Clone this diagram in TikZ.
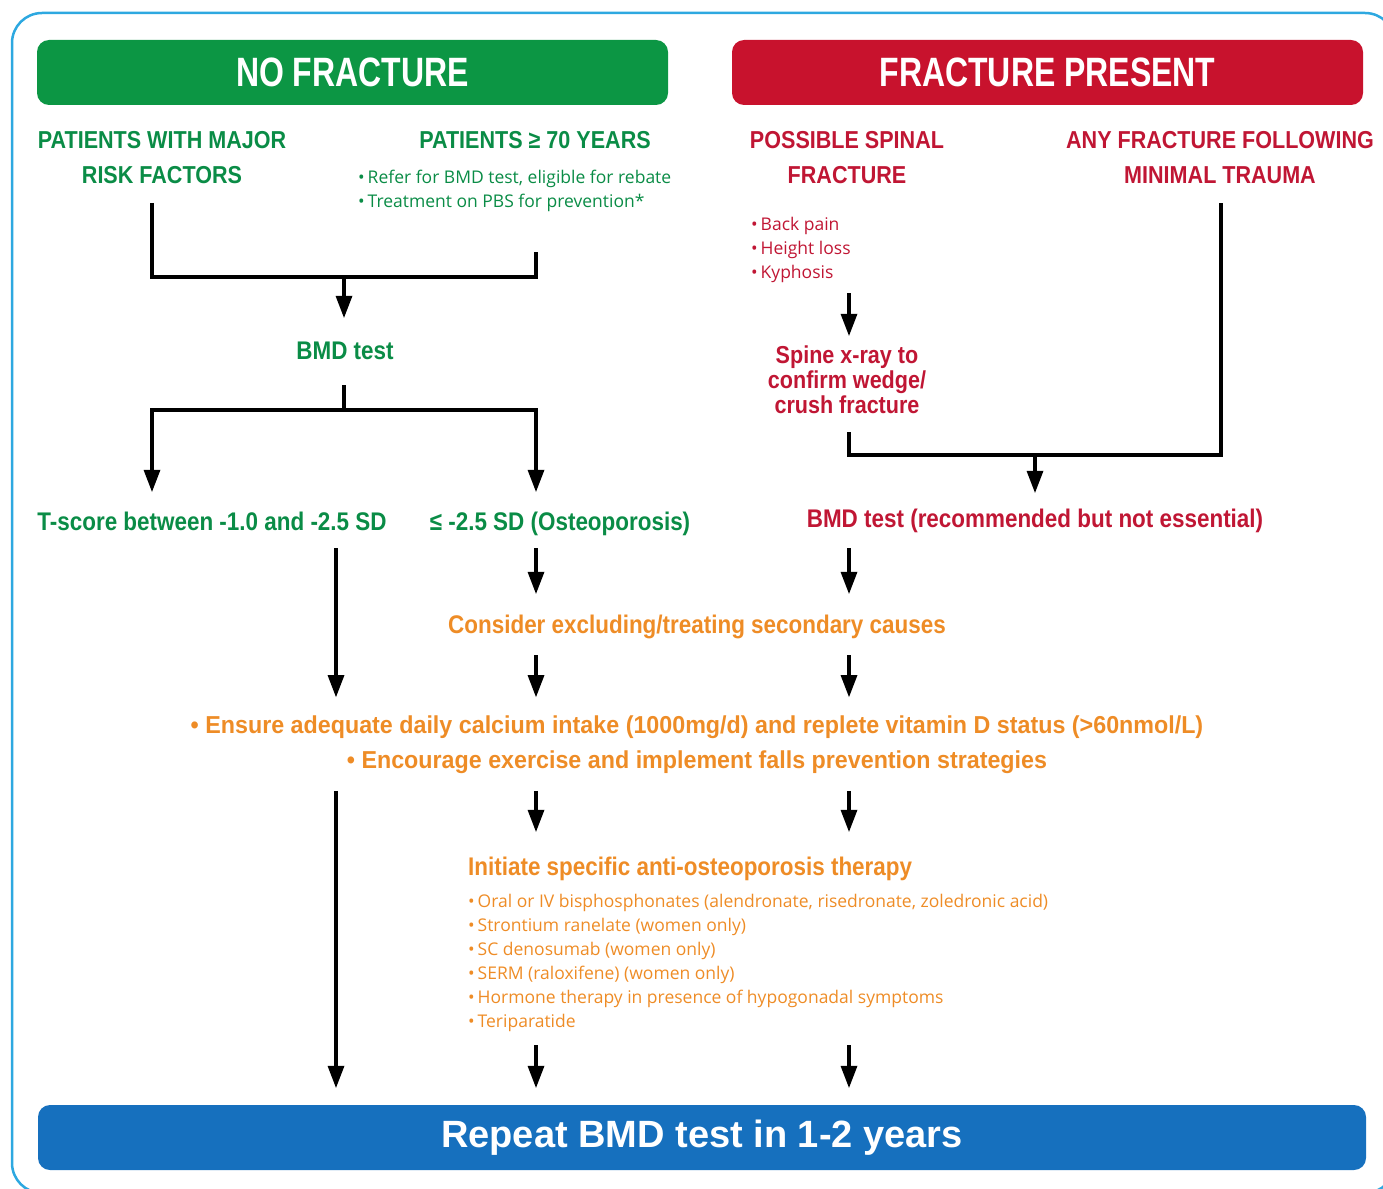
\documentclass[tikz,border=0pt]{standalone}
\usepackage{fontspec}
\setmainfont{Liberation Sans}
\newfontfamily\headfont[FakeStretch=0.78]{Liberation Sans}
\newfontfamily\labfont[FakeStretch=0.88]{Liberation Sans}
\newfontfamily\carefont[FakeStretch=0.95]{Liberation Sans}
\newfontfamily\listfont{Open Sans}
\usepackage{tikz}
\usetikzlibrary{positioning,arrows.meta}

\definecolor{nofx}{RGB}{12,150,68}
\definecolor{nofxtext}{RGB}{10,140,70}
\definecolor{fx}{RGB}{200,18,45}
\definecolor{fxtext}{RGB}{192,22,52}
\definecolor{care}{RGB}{238,140,38}
\definecolor{repeatbar}{RGB}{22,112,190}
\definecolor{frame}{RGB}{45,168,224}

\begin{document}
\begin{tikzpicture}[x=1pt,y=-1pt,
  flow/.style={line width=4pt,black},
  go/.style={flow,-{Triangle[width=17pt,length=22pt,line width=0pt]},shorten <=16pt,shorten >=18pt},
  bar/.style={rounded corners=12pt,inner sep=0pt,minimum height=65pt,text=white},
  head/.style={bar,font=\headfont\bfseries\fontsize{41}{41}\selectfont},
  sub/.style={inner sep=0pt,align=center,font=\labfont\bfseries\fontsize{24.5}{35}\selectfont},
  lbl/.style={inner sep=0pt,text height=18pt,text depth=0pt,font=\labfont\bfseries\fontsize{25.5}{25}\selectfont},
  carelbl/.style={lbl,text=care,text height=17.5pt,font=\carefont\bfseries\fontsize{24.5}{24}\selectfont},
  list/.style={inner sep=0pt,anchor=base west,text height=13pt,text depth=4pt,font=\listfont\fontsize{17.5}{24}\selectfont}]
\useasboundingbox (0,0) rectangle (1383,1188);
\draw[frame,line width=2.5pt,rounded corners=30pt] (12,13) rectangle (1395,1193);

% headers
\node[head,fill=nofx,minimum width=631pt] (nofx) at (352.5,72.5) {NO FRACTURE};
\node[head,fill=fx,minimum width=631pt] (fx) at (1047.5,72.5) {FRACTURE PRESENT};
\node[bar,fill=repeatbar,minimum width=1328pt,font=\bfseries\fontsize{38}{38}\selectfont] (repeat) at (702,1137.5) {Repeat BMD test in 1-2 years};

\node[sub,text=nofxtext] (major) at (162,157.5) {PATIENTS WITH MAJOR\\RISK FACTORS};
\node[sub,text=nofxtext,text height=18pt,text depth=0pt] (old) at (535,140) {PATIENTS ≥ 70 YEARS};
\node[sub,text=fxtext] (spinal) at (847,157.5) {POSSIBLE SPINAL\\FRACTURE};
\node[sub,text=fxtext] (trauma) at (1220,157.5) {ANY FRACTURE FOLLOWING\\MINIMAL TRAUMA};

\foreach \txt [count=\i] in {{Refer for BMD test, eligible for rebate},{Treatment on PBS for prevention*}}
  \node[list,text=nofxtext] (old\i) at (358,{159+24*\i}) {\textbullet\,\txt};
\foreach \txt [count=\i] in {Back pain,Height loss,Kyphosis}
  \node[list,text=fxtext] (sym\i) at (751,{206+24*\i}) {\textbullet\,\txt};

\node[lbl,text=nofxtext] (bmd1) at (345,350) {BMD test};
\node[lbl,text=nofxtext] (tscore) at (212,521) {T-score between -1.0 and -2.5 SD};
\node[lbl,text=nofxtext] (osteo) at (560,521) {≤ -2.5 SD (Osteoporosis)};
\node[sub,text=fxtext,font=\labfont\bfseries\fontsize{24.5}{25}\selectfont] (spine) at (847,380) {Spine x-ray to\\confirm wedge/\\crush fracture};
\node[lbl,text=fxtext] (bmd2) at (1035,518) {BMD test (recommended but not essential)};
\node[lbl,text=care] (cons) at (697,624) {Consider excluding/treating secondary causes};
\node[carelbl] (ensure) at (697,725) {\textbullet\ Ensure adequate daily calcium intake (1000mg/d) and replete vitamin D status (>60nmol/L)};
\node[carelbl] (encourage) at (697,760) {\textbullet\ Encourage exercise and implement falls prevention strategies};
\node[lbl,text=care,anchor=west] (init) at (468,866) {Initiate specific anti-osteoporosis therapy};
\foreach \txt [count=\i] in {{Oral or IV bisphosphonates (alendronate, risedronate, zoledronic acid)},{Strontium ranelate (women only)},{SC denosumab (women only)},{SERM (raloxifene) (women only)},{Hormone therapy in presence of hypogonadal symptoms},Teriparatide}
  \node[list,text=care] (drug\i) at (468,{883+24*\i}) {\textbullet\,\txt};

% connectors
\coordinate (j1) at (344,277);
\coordinate (j2) at (344,410);
\coordinate (j3) at (1035,455);
\coordinate (colA) at (152,0);
\coordinate (colB) at (536,0);
\coordinate (colL) at (336,0);
\coordinate (colR) at (849,0);
\coordinate (colT) at (1221,0);

\draw[flow,shorten <=19pt,shorten >=41pt] (colA |- major.south) |- (colB |- j1) -- (colB |- old2.south);
\draw[go,shorten <=0pt,shorten >=23pt] (j1) -- (j1 |- bmd1.north);
\draw[flow,shorten <=26pt] (j2 |- bmd1.south) -- (j2);
\draw[go,shorten <=0pt,shorten >=20pt] (j2) -| (colA |- tscore.north);
\draw[go,shorten <=0pt,shorten >=20pt] (j2) -| (colB |- osteo.north);

\draw[go,shorten <=11pt,shorten >=10pt] (colR |- sym3.south) -- (colR |- spine.north);
\draw[flow,shorten <=18pt,shorten >=19pt] (colR |- spine.south) |- (colT |- j3) -- (colT |- trauma.south);
\draw[go,shorten <=0pt,shorten >=16pt] (j3) -- (j3 |- bmd2.north);

\draw[go,shorten <=18pt,shorten >=21pt] (colB |- osteo.south) -- (colB |- cons.north);
\draw[go,shorten <=21pt,shorten >=21pt] (colR |- bmd2.south) -- (colR |- cons.north);
\foreach \c in {colB,colR}
  \draw[go,shorten <=22pt,shorten >=19pt] (\c |- cons.south) -- (\c |- ensure.north);
\draw[go,shorten <=18pt,shorten >=19pt] (colL |- tscore.south) -- (colL |- ensure.north);
\draw[go,shorten <=22pt,shorten >=17pt] (colL |- encourage.south) -- (colL |- repeat.north);
\foreach \c in {colB,colR} {
  \draw[go,shorten <=22pt,shorten >=25pt] (\c |- encourage.south) -- (\c |- init.north);
  \draw[go,shorten <=14pt,shorten >=17pt] (\c |- drug6.south) -- (\c |- repeat.north);
}
\end{tikzpicture}
\end{document}
